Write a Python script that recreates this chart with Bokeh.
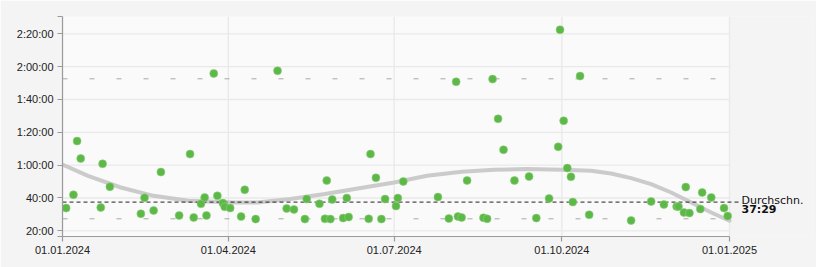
import pandas as pd
from bokeh.plotting import figure
from bokeh.models import (ColumnDataSource, Range1d, FixedTicker, Label, BoxAnnotation,
                          DatetimeTickFormatter)
from bokeh.embed import file_html
from bokeh.resources import INLINE

# ---------------- data ----------------
DATES = [
    "2024-01-03", "2024-01-07", "2024-01-09", "2024-01-11", "2024-01-22", "2024-01-23",
    "2024-01-27", "2024-02-13", "2024-02-15", "2024-02-20", "2024-02-24", "2024-03-05",
    "2024-03-11", "2024-03-13", "2024-03-17", "2024-03-19", "2024-03-20", "2024-03-24",
    "2024-03-26", "2024-03-29", "2024-03-30", "2024-04-02", "2024-04-08", "2024-04-10",
    "2024-04-16", "2024-04-28", "2024-05-03", "2024-05-07", "2024-05-13", "2024-05-14",
    "2024-05-21", "2024-05-24", "2024-05-25", "2024-05-27", "2024-05-28", "2024-06-03",
    "2024-06-05", "2024-06-06", "2024-06-17", "2024-06-18", "2024-06-21", "2024-06-24",
    "2024-06-26", "2024-07-02", "2024-07-03", "2024-07-06", "2024-07-25", "2024-07-31",
    "2024-08-04", "2024-08-05", "2024-08-07", "2024-08-10", "2024-08-19", "2024-08-21",
    "2024-08-24", "2024-08-27", "2024-08-30", "2024-09-05", "2024-09-13", "2024-09-17",
    "2024-09-24", "2024-09-29", "2024-09-30", "2024-10-02", "2024-10-04", "2024-10-06",
    "2024-10-07", "2024-10-11", "2024-10-16", "2024-11-08", "2024-11-19", "2024-11-26",
    "2024-12-03", "2024-12-04", "2024-12-07", "2024-12-08", "2024-12-10", "2024-12-16",
    "2024-12-17", "2024-12-22", "2024-12-29", "2024-12-31",
]
DURATIONS = [
    "33:50", "41:56", "1:14:39", "1:04:03", "34:11", "1:00:49",
    "46:48", "30:22", "40:06", "32:22", "55:46", "29:19",
    "1:06:44", "28:06", "36:27", "40:17", "29:19", "1:55:50",
    "41:19", "36:52", "34:37", "33:50", "28:43", "44:59",
    "27:08", "1:57:28", "33:35", "32:59", "27:08", "39:19",
    "36:27", "27:19", "50:38", "27:08", "39:04", "27:44",
    "39:55", "28:21", "27:19", "1:06:44", "52:17", "27:08",
    "39:19", "35:03", "39:55", "50:02", "40:32", "27:29",
    "1:50:46", "28:43", "28:06", "50:38", "27:55", "27:19",
    "1:52:25", "1:28:14", "1:09:21", "50:38", "53:05", "27:44",
    "39:41", "1:11:10", "2:22:27", "1:27:01", "58:12", "52:54",
    "37:29", "1:54:14", "29:45", "26:16", "37:51", "36:02",
    "34:48", "34:48", "31:09", "46:37", "30:47", "33:13",
    "43:20", "40:17", "33:50", "28:58",
]
TREND_DATES = [
    "2024-01-01", "2024-01-15", "2024-02-02", "2024-02-20", "2024-03-10", "2024-04-04",
    "2024-04-17", "2024-05-05", "2024-05-24", "2024-06-11", "2024-07-01", "2024-07-19",
    "2024-08-07", "2024-08-25", "2024-09-12", "2024-10-01", "2024-10-17", "2024-10-28",
    "2024-11-08", "2024-11-19", "2024-11-30", "2024-12-11", "2024-12-22", "2025-01-01",
]
TREND_VALUES = [
    "1:00:23", "53:30", "46:23", "41:19", "38:17", "37:14",
    "37:14", "39:19", "42:22", "45:46", "49:25", "53:30",
    "55:56", "57:10", "57:35", "57:10", "56:33", "54:54",
    "52:06", "48:27", "43:20", "37:14", "31:09", "26:06",
]
AVERAGE = "37:29"
AVERAGE_LABEL = "Durchschn."
BAND_HIGH = "1:52:36"
BAND_LOW = "27:19"
Y_TICK_LABELS = ["20:00", "40:00", "1:00:00", "1:20:00", "1:40:00", "2:00:00", "2:20:00"]
X_TICK_LABELS = ["01.01.2024", "01.04.2024", "01.07.2024", "01.10.2024", "01.01.2025"]


def to_sec(s):
    sec = 0
    for v in s.split(":"):
        sec = sec * 60 + int(v)
    return sec


def to_ms(ts):
    return int(pd.Timestamp(ts).value // 10**6)


# ---------------- layout constants ----------------
W, H = 816, 267
LEFT, RIGHT, TOP, BOTTOM = 62, 4, 16, 31
PLOT_PX = 667                      # pixel width of the one-year data area
Y_MIN, Y_MAX = 992, 9033
X_START = to_ms("2024-01-01")
X_END = to_ms("2025-01-01")
DAY_MS = 86400000
frame_w = W - LEFT - RIGHT
X_VIEW_END = X_START + (X_END - X_START) * frame_w / PLOT_PX
AVG_EXT = X_END + 5.5 * DAY_MS

src = ColumnDataSource(dict(
    x=pd.to_datetime(DATES),
    y=[to_sec(d) for d in DURATIONS],
))
trend = ColumnDataSource(dict(
    x=pd.to_datetime(TREND_DATES),
    y=[to_sec(v) for v in TREND_VALUES],
))

p = figure(
    width=W, height=H, x_axis_type="datetime",
    output_backend="svg", toolbar_location=None,
    x_range=Range1d(X_START, X_VIEW_END), y_range=Range1d(Y_MIN, Y_MAX),
    min_border_left=LEFT, min_border_right=RIGHT, min_border_top=TOP,
    min_border_bottom=BOTTOM,
    background_fill_color="#f4f4f4", border_fill_color="#f4f4f4",
    outline_line_color=None,
)
p.xgrid.visible = False
p.ygrid.visible = False

# plot-area background (only the one-year data area)
p.add_layout(BoxAnnotation(left=X_START, right=X_END, fill_color="#fafafa", fill_alpha=1,
                           line_color=None, level="image"))

# x axis
x_ticks = [to_ms(pd.to_datetime(l, format="%d.%m.%Y")) for l in X_TICK_LABELS]
p.xaxis.ticker = FixedTicker(ticks=x_ticks)
p.xaxis.formatter = DatetimeTickFormatter(days="%d.%m.%Y", months="%d.%m.%Y", years="%d.%m.%Y")
p.xaxis.major_label_overrides = {t: l for t, l in zip(x_ticks, X_TICK_LABELS)}
p.xaxis.bounds = (X_START, X_END)

# y axis
y_ticks = [to_sec(l) for l in Y_TICK_LABELS]
p.yaxis.ticker = FixedTicker(ticks=[Y_MIN] + y_ticks + [Y_MAX])
overrides = {t: l for t, l in zip(y_ticks, Y_TICK_LABELS)}
overrides[Y_MIN] = ""
overrides[Y_MAX] = ""
p.yaxis.major_label_overrides = overrides

for ax in (p.xaxis, p.yaxis):
    ax.axis_line_color = "#9a9a9a"
    ax.axis_line_width = 1.2
    ax.major_tick_line_color = "#9a9a9a"
    ax.major_tick_line_width = 1.2
    ax.major_tick_out = 5
    ax.major_tick_in = 0
    ax.minor_tick_line_color = None
    ax.major_label_text_font = "Liberation Sans"
    ax.major_label_text_font_size = "11px"
    ax.major_label_text_color = "#222222"
    ax.major_label_standoff = 4

# grid lines restricted to the data area
p.segment(x0=x_ticks, x1=x_ticks, y0=Y_MIN, y1=Y_MAX, line_color="#e9e9e9",
          line_width=1.3, level="underlay")
p.segment(x0=X_START, x1=X_END, y0=y_ticks, y1=y_ticks, line_color="#e9e9e9",
          line_width=1.3, level="underlay")

# reference bands
bands = [to_sec(BAND_HIGH), to_sec(BAND_LOW)]
p.segment(x0=X_START, x1=X_END, y0=bands, y1=bands, line_color="#a8a8a8",
          line_width=1, line_dash="5 22")

# trend curve
p.line("x", "y", source=trend, line_color="#c8c8c8", line_width=4, line_alpha=0.95,
       line_join="round", line_cap="round")

# average line (extends slightly past the data area)
avg = to_sec(AVERAGE)
p.segment(x0=[X_START], x1=[AVG_EXT], y0=[avg], y1=[avg], line_color="#222222",
          line_width=1, line_dash="4 3")

# points
p.scatter("x", "y", source=src, size=8, fill_color="#5cb847", line_color="#8fcf7e",
          line_width=0.6)

# average label
p.add_layout(Label(x=X_END, y=avg, x_offset=12, y_offset=1.5, text=AVERAGE_LABEL,
                   text_baseline="alphabetic", text_font="DejaVu Sans",
                   text_font_size="11px", text_color="#111111"))
p.add_layout(Label(x=X_END, y=avg, x_offset=12, y_offset=-0.5, text=AVERAGE,
                   text_baseline="top", text_font="DejaVu Sans", text_font_style="bold",
                   text_font_size="11px", text_color="#111111"))

open("out.html", "w").write(file_html(p, INLINE))
